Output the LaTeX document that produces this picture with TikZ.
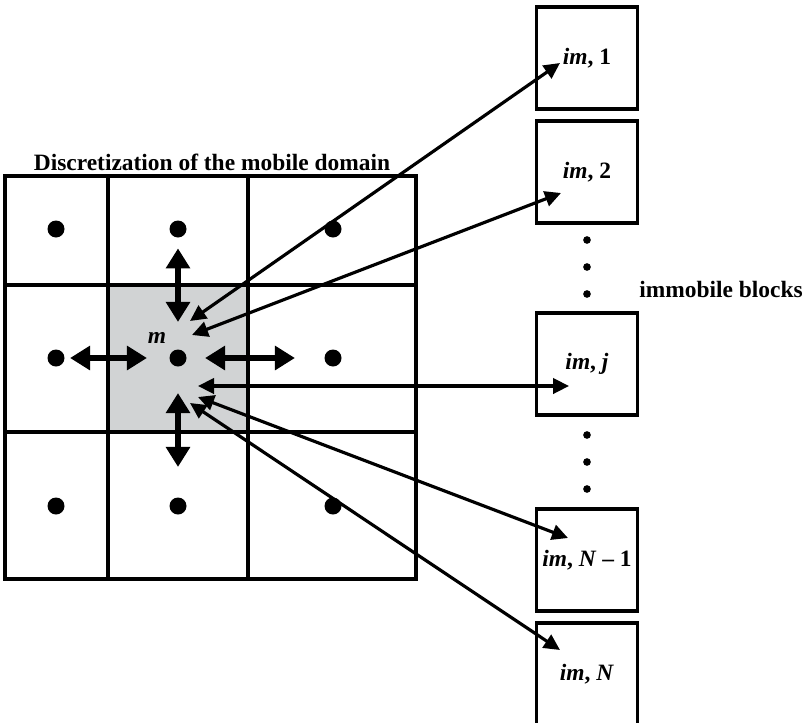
\documentclass[tikz,border=0pt]{standalone}
\usepackage{fontspec}
\setmainfont{Liberation Serif}
\usetikzlibrary{arrows.meta}

\definecolor{cellgray}{RGB}{209,211,212}

\tikzset{
  every dot/.style={circle, fill, inner sep=0pt, minimum size=5.1mm},
  small dot/.style={circle, fill, inner sep=0pt, minimum size=2.3mm},
  block/.style={draw, line width=1mm, minimum width=30.3mm, minimum height=30.6mm, inner sep=0pt},
  flux/.style={{Triangle[length=6mm,width=7mm]}-{Triangle[length=6mm,width=7mm]}, line width=1.6mm},
  exchange/.style={{Triangle[length=4.8mm,width=4.6mm]}-{Triangle[length=4.8mm,width=4.6mm]}, line width=0.95mm},
}

\begin{document}
\begin{tikzpicture}[x=0.3mm, y=-0.3mm, font=\fontsize{20}{24}\selectfont\bfseries]

\useasboundingbox (0,0) rectangle (804,722);

% mobile grid, cell m shaded
\fill [cellgray] (108,285) rectangle (248,432);
\draw [line width=1.1mm] (5,176) rectangle (416,579);
\draw [line width=1mm] (108,176) -- (108,579) (248,176) -- (248,579)
  (5,285) -- (416,285) (5,432) -- (416,432);

\node (title) at (212,162) {Discretization of the mobile domain};

\foreach \y [count=\r] in {229,358,506}
  \foreach \x [count=\c] in {56,178,333}
    \node [every dot] (cell-\r-\c) at (\x,\y) {};

\node (label-m) at (157,338) {\textit{m}};

% exchange with the neighbouring cells
\draw [flux, shorten <=3.2mm, shorten >=8.2mm] (cell-1-2) -- (cell-2-2);
\draw [flux, shorten <=1.6mm, shorten >=6.7mm] (cell-2-1) -- (cell-2-2);
\draw [flux, shorten <=5.5mm, shorten >=8.8mm] (cell-2-2) -- (cell-2-3);
\draw [flux, shorten <=7.9mm, shorten >=9.1mm] (cell-2-2) -- (cell-3-2);

% immobile blocks
\foreach \name/\lab/\y in {1/{\textit{im}, 1}/58, 2/{\textit{im}, 2}/172,
    j/{\textit{im}, \textit{j}}/364, N1/{\textit{im}, \textit{N} – 1}/560,
    N/{\textit{im}, \textit{N}}/674}
  \node [block] (im-\name) at (587,\y) {\lab};

\foreach \y in {240,267,294,435,462,489}
  \node [small dot] (gap-\y) at (587,\y) {};

\node (label-im) at (721,289) {immobile blocks};

% mass transfer between m and each block
\foreach \name/\bx/\by/\cx/\cy in {1/560/63/190/321, 2/561/193/192/335,
    j/569/386/198/386, N1/568/538/198/397, N/560/650/190/403} {
  \coordinate (in-\name) at (\bx,\by);
  \coordinate (out-\name) at (\cx,\cy);
  \draw [exchange] (out-\name) -- (in-\name);
}

\end{tikzpicture}
\end{document}
